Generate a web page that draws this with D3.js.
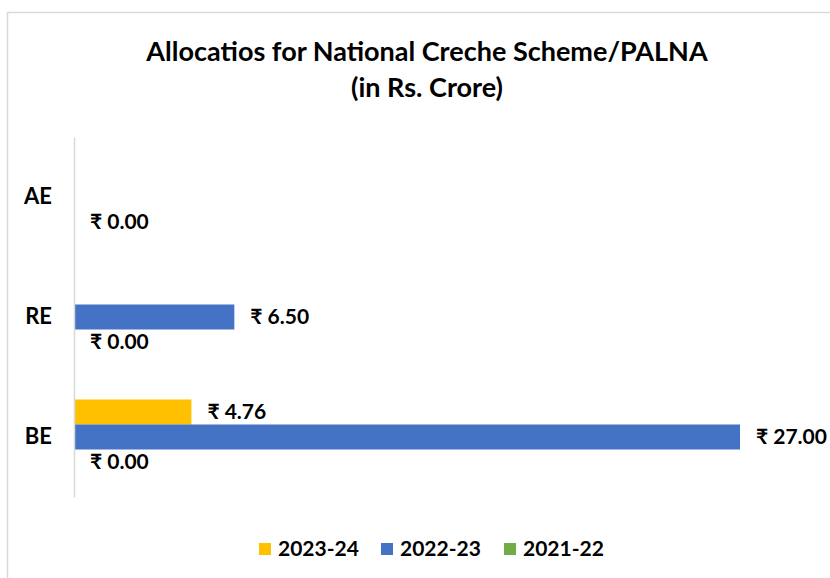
<!DOCTYPE html>
<html>
<head>
<meta charset="utf-8">
<script src="https://cdn.jsdelivr.net/npm/d3@7"></script>
<style>
  body { margin: 0; background: #fff; }
  text { font-family: Lato, "Noto Sans", sans-serif; font-weight: bold; fill: #000; }
</style>
</head>
<body>
<div id="chart"></div>
<script>
// chart data
var categories = ["BE", "RE", "AE"];
var seriesNames = ["2023-24", "2022-23", "2021-22"];
var values2023 = [4.76, null, null];
var values2022 = [27.00, 6.50, null];
var values2021 = [0.00, 0.00, 0.00];
var seriesColors = ["#FFC000", "#4472C4", "#70AD47"];
var xDomainMax = 30;

var width = 830, height = 578;

var svg = d3.select("#chart").append("svg")
    .attr("width", width)
    .attr("height", height);

// chart frame (runs off the right and bottom edges)
svg.append("rect")
    .attr("x", 7.5).attr("y", 12.5)
    .attr("width", 900).attr("height", 700)
    .attr("fill", "none")
    .attr("stroke", "#d9d9d9")
    .attr("stroke-width", 1.5);

// title
svg.append("text")
    .attr("x", 427).attr("y", 61)
    .attr("text-anchor", "middle")
    .style("font-size", "27px")
    .text("Allocatios for National Creche Scheme/PALNA");
svg.append("text")
    .attr("x", 427).attr("y", 97)
    .attr("text-anchor", "middle")
    .style("font-size", "27px")
    .text("(in Rs. Crore)");

var plot = {left: 74, top: 137, right: 814, bottom: 497};

var x = d3.scaleLinear()
    .domain([0, xDomainMax])
    .range([plot.left, plot.right]);

var y = d3.scaleBand()
    .domain(categories.slice().reverse())
    .range([plot.top, plot.bottom])
    .paddingInner(0.375)
    .paddingOuter(0.1875);

var ySeries = d3.scaleBand()
    .domain(seriesNames)
    .range([0, y.bandwidth()]);

// build rows
var allValues = [values2023, values2022, values2021];
var rows = [];
categories.forEach(function(c, i) {
    seriesNames.forEach(function(s, j) {
        var v = allValues[j][i];
        if (v !== null) rows.push({cat: c, series: s, value: v, color: seriesColors[j]});
    });
});

// bars
svg.selectAll(".bar")
    .data(rows)
    .enter().append("rect")
    .attr("class", "bar")
    .attr("x", x(0))
    .attr("y", function(d) { return y(d.cat) + ySeries(d.series); })
    .attr("width", function(d) { return x(d.value) - x(0); })
    .attr("height", ySeries.bandwidth())
    .attr("fill", function(d) { return d.color; });

// value labels
svg.selectAll(".lbl")
    .data(rows)
    .enter().append("text")
    .attr("class", "lbl")
    .attr("x", function(d) { return x(d.value) + 16; })
    .attr("y", function(d) { return y(d.cat) + ySeries(d.series) + ySeries.bandwidth() / 2; })
    .attr("dy", "0.35em")
    .style("font-size", "21px")
    .text(function(d) { return "₹ " + d.value.toFixed(2); });

// category axis
var axis = svg.append("g")
    .attr("transform", "translate(" + plot.left + ",0)")
    .call(d3.axisLeft(y).tickSize(0).tickPadding(22));
axis.select(".domain").attr("stroke", "#d9d9d9").attr("stroke-width", 1.5);
axis.selectAll("text")
    .style("font-size", "22px")
    .style("font-family", "Lato, 'Noto Sans', sans-serif")
    .attr("fill", "#000");

// legend
var legendX = [259, 381, 504];
var legend = svg.selectAll(".legend")
    .data(seriesNames)
    .enter().append("g")
    .attr("class", "legend")
    .attr("transform", function(d, i) { return "translate(" + legendX[i] + ",549)"; });
legend.append("rect")
    .attr("x", 0).attr("y", -6)
    .attr("width", 12).attr("height", 12)
    .attr("fill", function(d, i) { return seriesColors[i]; });
legend.append("text")
    .attr("x", 19).attr("y", 0)
    .attr("dy", "0.35em")
    .style("font-size", "21px")
    .text(function(d) { return d; });
</script>
</body>
</html>
